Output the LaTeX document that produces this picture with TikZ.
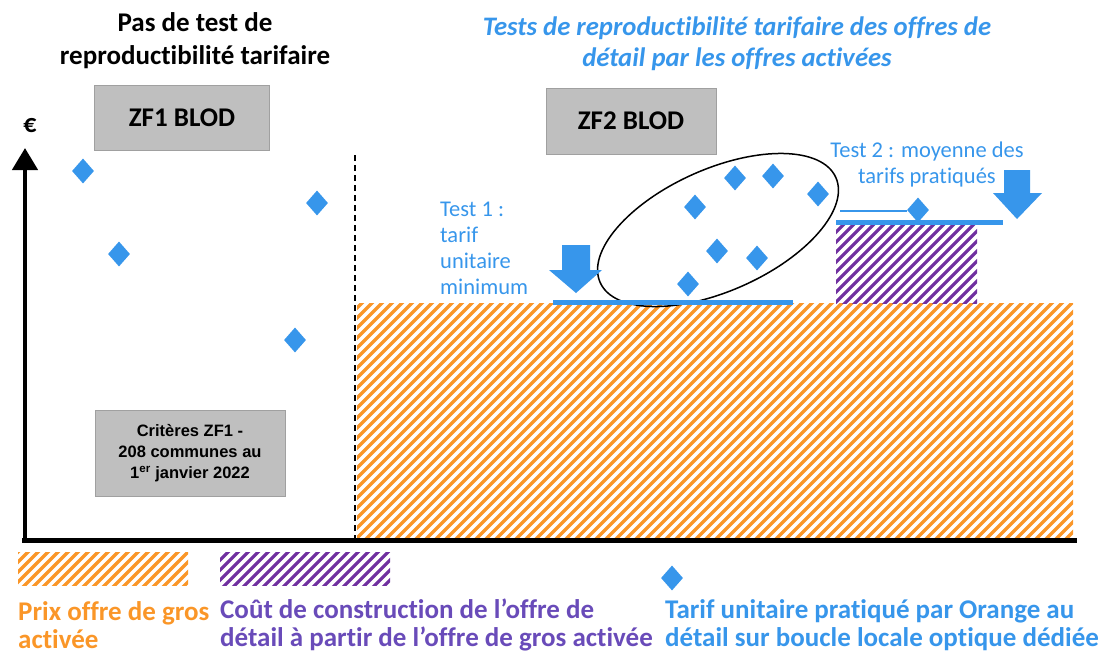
\documentclass[tikz,border=0pt]{standalone}
\usepackage{fontspec}
\setmainfont{Carlito}[Ligatures=NoCommon]
\newfontfamily\arialf{Liberation Sans}
\usetikzlibrary{shapes.geometric,arrows.meta}
\definecolor{cblue}{RGB}{55,150,235}
\definecolor{corange}{RGB}{250,150,40}
\definecolor{cpurple}{RGB}{112,48,160}
\definecolor{cpurpletext}{RGB}{105,75,185}
\definecolor{cgray}{RGB}{191,191,191}
\definecolor{cgrayb}{RGB}{160,160,160}
\tikzset{
  graybox/.style={draw=cgrayb, fill=cgray, line width=1pt, inner sep=0pt},
  dia/.style={shape=diamond, fill=cblue, draw=none, inner sep=0pt, minimum width=22pt, minimum height=25pt},
  bluebar/.style={draw=cblue, line width=5pt},
  hatchO/.style={draw=corange, line width=3.4pt},
  hatchP/.style={draw=cpurple, line width=3.2pt},
  bluetxt/.style={text=cblue, font=\fontsize{22.5}{26}\selectfont},
  legtxt/.style={font=\bfseries\fontsize{27}{28}\selectfont, align=left, anchor=west, inner sep=0pt},
}
\begin{document}
\begin{tikzpicture}[x=1pt,y=-1pt]
\useasboundingbox (0,0) rectangle (1100,657);

% orange hatched area
\begin{scope}
\clip (357,303) rectangle (1073,540);
\foreach \i in {100,110,...,1080} \draw[hatchO] (\i,545) -- ++(250,-250);
\end{scope}
% purple hatched area
\begin{scope}
\clip (836,225) rectangle (977,303);
\foreach \i in {750,760,...,990} \draw[hatchP] (\i,308) -- ++(90,-90);
\end{scope}
% legend hatches
\begin{scope}
\clip (18,552) rectangle (188,585);
\foreach \i in {-20,-10,...,190} \draw[hatchO] (\i,590) -- ++(45,-45);
\end{scope}
\begin{scope}
\clip (220,552) rectangle (390,585);
\foreach \i in {180,190,...,390} \draw[hatchP] (\i,590) -- ++(45,-45);
\end{scope}

% axes
\draw[line width=4.5pt, -{Triangle[length=22pt,width=25pt]}] (25,542) -- (25,148);
\draw[line width=5pt] (22,540) -- (1077,540);
\draw[line width=2pt, dash pattern=on 6pt off 4pt] (355,155) -- (355,538);
\node[font=\bfseries\fontsize{26}{28}\selectfont] (euro) at (30,126) {€};

% titles
\node[font=\bfseries\fontsize{27}{33}\selectfont, align=center] (title1) at (195,41) {Pas de test de\\reproductibilité tarifaire};
\node[text=cblue, font=\bfseries\itshape\fontsize{26.7}{31}\selectfont, align=center] (title2) at (737,44) {Tests de reproductibilité tarifaire des offres de\\détail par les offres activées};

% boxes
\node[graybox, minimum width=175pt, minimum height=65pt, font=\bfseries\fontsize{27}{30}\selectfont] (zf1) at (182,118) {ZF1 BLOD};
\node[graybox, minimum width=170pt, minimum height=66pt, font=\bfseries\fontsize{27}{30}\selectfont] (zf2) at (631,121) {ZF2 BLOD};
\node[graybox, minimum width=190pt, minimum height=86pt, align=center, font=\arialf\bfseries\fontsize{16.5}{21}\selectfont] (crit) at (190,453) {Critères ZF1 -\\208 communes au\\1\textsuperscript{er} janvier 2022};

% left diamonds
\node[dia] (d1) at (83,171) {};
\node[dia] (d2) at (119,254) {};
\node[dia] (d3) at (317,203) {};
\node[dia] (d4) at (295,340) {};

% ellipse and diamonds
\node[draw=black, line width=1.5pt, ellipse, minimum width=258pt, minimum height=122pt, rotate=24] (ell) at (718,230) {};
\node[dia] (e1) at (695,207) {};
\node[dia] (e2) at (735,178) {};
\node[dia] (e3) at (773,176) {};
\node[dia] (e4) at (818,194) {};
\node[dia] (e5) at (717,251) {};
\node[dia] (e6) at (757,258) {};
\node[dia] (e7) at (688,284) {};

% test bars
\coordinate (b1a) at (553,302);
\coordinate (b1b) at (793,302);
\draw[bluebar] (b1a) -- (b1b);
\coordinate (b2a) at (836,222);
\coordinate (b2b) at (1003,222);
\draw[bluebar] (b2a) -- (b2b);
\node[dia] (dm) at (918,210) {};
\coordinate (lm) at (840,211);
\draw[cblue, line width=1.2pt] (lm) -- (dm.west |- lm);

% block arrows
\fill[cblue] (562,245) -- (590,245) -- (590,270) -- (602,270) -- (576,293) -- (549,270) -- (562,270) -- cycle;
\fill[cblue] (1004,170) -- (1030,170) -- (1030,193) -- (1042,193) -- (1017,219) -- (993,193) -- (1004,193) -- cycle;

% test labels
\node[bluetxt, align=left, anchor=west, inner sep=0pt] (test1) at (440,248) {Test 1 :\\tarif\\unitaire\\minimum};
\node[bluetxt, align=center, inner sep=0pt] (test2) at (927,164) {Test 2 : moyenne des\\tarifs pratiqués};

% legend
\node[dia] (dl) at (672,578) {};
\node[legtxt, text=corange] (l1) at (18,625) {Prix offre de gros\\activée};
\node[legtxt, text=cpurpletext] (l2) at (220,625) {Coût de construction de l’offre de\\détail à partir de l’offre de gros activée};
\node[legtxt, text=cblue] (l3) at (665,625) {Tarif unitaire pratiqué par Orange au\\détail sur boucle locale optique dédiée};
\end{tikzpicture}
\end{document}
